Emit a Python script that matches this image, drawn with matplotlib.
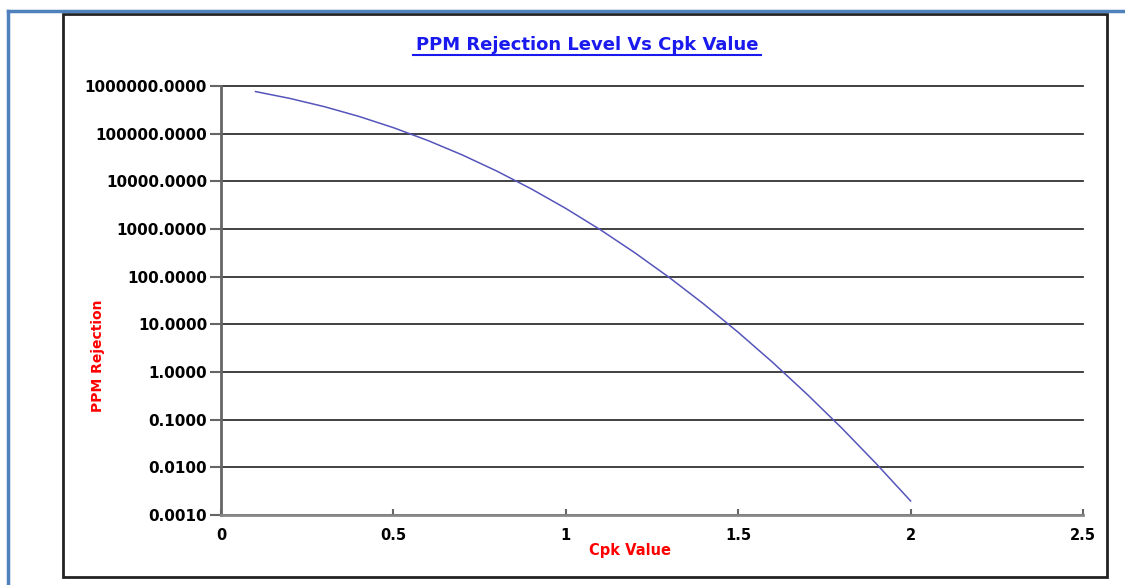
import matplotlib
matplotlib.use("Agg")
import matplotlib.pyplot as plt
from matplotlib.lines import Line2D
from matplotlib.patches import Rectangle
from matplotlib.ticker import FixedLocator, NullLocator

# valeurs
cpk = [0.1, 0.2, 0.3, 0.4, 0.5, 0.6, 0.7, 0.8, 0.9, 1.0,
       1.1, 1.2, 1.3, 1.4, 1.5, 1.6, 1.7, 1.8, 1.9, 2.0]
ppm = [764177, 548506, 368120, 230139, 133614, 71861, 35729, 16395, 6934, 2700,
       967, 318, 96.2, 26.7, 6.8, 1.59, 0.34, 0.067, 0.012, 0.00197]

y_ticks = [0.001, 0.01, 0.1, 1, 10, 100, 1000, 10000, 100000, 1000000]
x_ticks = [0, 0.5, 1, 1.5, 2, 2.5]
x_labels = ['0', '0.5', '1', '1.5', '2', '2.5']

W, H = 1125, 585
fig = plt.figure(figsize=(W / 100, H / 100), dpi=100)

# cadre bleu de la page + cadre noir du graphique
fig.add_artist(Line2D([8 / W, 1.0], [1 - 11 / H, 1 - 11 / H], color='#4f81bd', lw=2.5))
fig.add_artist(Line2D([8 / W, 8 / W], [0, 1 - 11 / H], color='#4f81bd', lw=2.5))
fig.add_artist(Rectangle((63 / W, 1 - 577 / H), (1107 - 63) / W, (577 - 14) / H,
                         fill=False, edgecolor='#222222', lw=2, transform=fig.transFigure))

ax = fig.add_axes([221 / W, 1 - 515 / H, (1083 - 221) / W, (515 - 86) / H])
ax.plot(cpk, ppm, color='#5555bb', lw=1.1)
ax.set_yscale('log')
ax.set_ylim(0.001, 1000000)
ax.set_xlim(0, 2.5)

ax.yaxis.set_major_locator(FixedLocator(y_ticks))
ax.yaxis.set_minor_locator(NullLocator())
ax.set_yticklabels(['%.4f' % v for v in y_ticks])
ax.set_xticks(x_ticks)
ax.set_xticklabels(x_labels)

for t in ax.get_yticklabels():
    t.set_fontfamily('DejaVu Sans')
    t.set_fontweight('bold')
    t.set_fontsize(11)
for t in ax.get_xticklabels():
    t.set_fontfamily('DejaVu Sans')
    t.set_fontweight('bold')
    t.set_fontsize(10.5)

ax.grid(axis='y', color='#333333', lw=1.3)
for gl in ax.get_ygridlines():
    gl.set_clip_on(False)
ax.tick_params(axis='y', direction='out', length=8, width=1.5, color='#666666', pad=2)
ax.tick_params(axis='x', direction='in', length=4, width=1.5, color='#666666', pad=9)

for s in ['top', 'right']:
    ax.spines[s].set_visible(False)
ax.spines['left'].set_color('#666666')
ax.spines['left'].set_linewidth(2)
ax.spines['bottom'].set_color('#888888')
ax.spines['bottom'].set_linewidth(2)

# titre souligne
fig.text(587 / W, 1 - 45 / H, 'PPM Rejection Level Vs Cpk Value', color='#1a1aee',
         fontsize=13, fontweight='bold', family='DejaVu Sans', ha='center', va='center')
fig.add_artist(Line2D([413 / W, 761 / W], [1 - 55 / H, 1 - 55 / H], color='#1a1aee', lw=1.5))

fig.text(98 / W, 1 - 356 / H, 'PPM Rejection', color='red', rotation=90,
         fontsize=10, fontweight='bold', family='DejaVu Sans',
         ha='center', va='center')
fig.text(630 / W, 1 - 550 / H, 'Cpk Value', color='red',
         fontsize=10.5, fontweight='bold', family='DejaVu Sans', ha='center', va='center')

fig.savefig('out.png', dpi=100)
